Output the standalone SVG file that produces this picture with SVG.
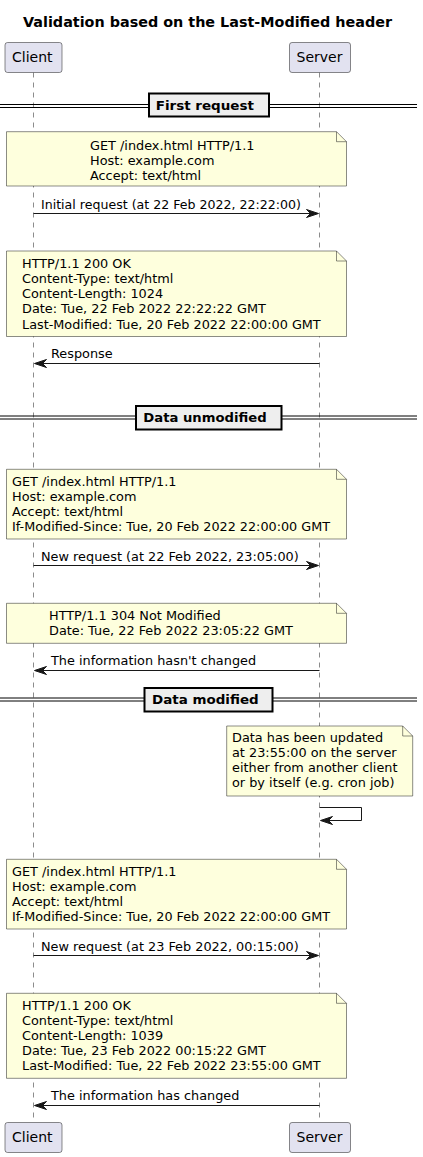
<svg xmlns="http://www.w3.org/2000/svg" width="423" height="1157" viewBox="0 0 423 1157">
<style>
text{font-family:"DejaVu Sans","Liberation Sans",sans-serif;fill:#000}
.t{font-size:14px;font-weight:bold}
.p{font-size:14px}
.m{font-size:12.85px}
.s{font-size:13px;font-weight:bold}
.part{fill:#E2E2F0;stroke:#181818;stroke-width:0.5}
.life{stroke:#181818;stroke-width:0.5;stroke-dasharray:5,5;fill:none}
.note{fill:#FEFFDD;stroke:#181818;stroke-width:0.5}
.fold{fill:none;stroke:#181818;stroke-width:0.5}
.sepl{stroke:#000;stroke-width:1}
.sepb{fill:#EEEEEE;stroke:#000;stroke-width:2}
.msg{stroke:#181818;stroke-width:1;fill:none}
.head{fill:#181818;stroke:#181818;stroke-width:1}
</style>
<rect width="423" height="1157" fill="#fff"/>
<text class="t" x="23" y="27" textLength="369" lengthAdjust="spacingAndGlyphs">Validation based on the Last-Modified header</text>

<g id="lifelines">
<line class="life" x1="33.5" y1="72.5" x2="33.5" y2="1122.5"/>
<line class="life" x1="319.5" y1="72.5" x2="319.5" y2="1122.5"/>
</g>

<g id="client">
<rect class="part" x="5" y="42.5" width="57" height="30" rx="2.5"/>
<text class="p" x="12" y="62.3">Client</text>
<rect class="part" x="5" y="1122.5" width="57" height="30" rx="2.5"/>
<text class="p" x="12" y="1142.3">Client</text>
</g>
<g id="server">
<rect class="part" x="289.5" y="42.5" width="61" height="30" rx="2.5"/>
<text class="p" x="296.5" y="62.3">Server</text>
<rect class="part" x="289.5" y="1122.5" width="61" height="30" rx="2.5"/>
<text class="p" x="296.5" y="1142.3">Server</text>
</g>

<g id="sep1">
<line class="sepl" x1="0" y1="104.5" x2="417" y2="104.5"/>
<line class="sepl" x1="0" y1="107.5" x2="417" y2="107.5"/>
<rect class="sepb" x="149" y="93.5" width="120" height="23"/>
<text class="s" x="155.7" y="110" textLength="98.3" lengthAdjust="spacingAndGlyphs">First request</text>
</g>
<g id="sep2">
<line class="sepl" x1="0" y1="416" x2="417" y2="416"/>
<line class="sepl" x1="0" y1="419" x2="417" y2="419"/>
<rect class="sepb" x="136" y="406" width="145.5" height="23.5"/>
<text class="s" x="143.3" y="422" textLength="123.4" lengthAdjust="spacingAndGlyphs">Data unmodified</text>
</g>
<g id="sep3">
<line class="sepl" x1="0" y1="698" x2="417" y2="698"/>
<line class="sepl" x1="0" y1="701" x2="417" y2="701"/>
<rect class="sepb" x="144.5" y="688" width="128" height="23.5"/>
<text class="s" x="152" y="703.5" textLength="106.7" lengthAdjust="spacingAndGlyphs">Data modified</text>
</g>

<g id="note1">
<path class="note" d="M6.5,131.7 L6.5,186 L346.5,186 L346.5,141.7 L336.5,131.7 Z"/>
<path class="fold" d="M336.5,131.7 L336.5,141.7 L346.5,141.7"/>
<text class="m" x="90" y="149.5">GET /index.html HTTP/1.1</text>
<text class="m" x="90" y="164.5">Host: example.com</text>
<text class="m" x="90" y="179.5">Accept: text/html</text>
</g>
<g id="note2">
<path class="note" d="M6.5,251 L6.5,336.5 L346.5,336.5 L346.5,261 L336.5,251 Z"/>
<path class="fold" d="M336.5,251 L336.5,261 L346.5,261"/>
<text class="m" x="22" y="268">HTTP/1.1 200 OK</text>
<text class="m" x="22" y="283">Content-Type: text/html</text>
<text class="m" x="22" y="298">Content-Length: 1024</text>
<text class="m" x="22" y="313.3">Date: Tue, 22 Feb 2022 22:22:22 GMT</text>
<text class="m" x="22" y="328.5" textLength="298.7" lengthAdjust="spacingAndGlyphs">Last-Modified: Tue, 20 Feb 2022 22:00:00 GMT</text>
</g>
<g id="note3">
<path class="note" d="M6.5,469.3 L6.5,539 L346.5,539 L346.5,479.3 L336.5,469.3 Z"/>
<path class="fold" d="M336.5,469.3 L336.5,479.3 L346.5,479.3"/>
<text class="m" x="12" y="485.7">GET /index.html HTTP/1.1</text>
<text class="m" x="12" y="500.7">Host: example.com</text>
<text class="m" x="12" y="515.7">Accept: text/html</text>
<text class="m" x="12" y="530.7" textLength="318" lengthAdjust="spacingAndGlyphs">If-Modified-Since: Tue, 20 Feb 2022 22:00:00 GMT</text>
</g>
<g id="note4">
<path class="note" d="M6.5,603.3 L6.5,643.3 L346.5,643.3 L346.5,613.3 L336.5,603.3 Z"/>
<path class="fold" d="M336.5,603.3 L336.5,613.3 L346.5,613.3"/>
<text class="m" x="49" y="620">HTTP/1.1 304 Not Modified</text>
<text class="m" x="49" y="635">Date: Tue, 22 Feb 2022 23:05:22 GMT</text>
</g>
<g id="note5">
<path class="note" d="M226.7,726 L226.7,796 L412.7,796 L412.7,736 L402.7,726 Z"/>
<path class="fold" d="M402.7,726 L402.7,736 L412.7,736"/>
<text class="m" x="232" y="742.3">Data has been updated</text>
<text class="m" x="232" y="757.3">at 23:55:00 on the server</text>
<text class="m" x="232" y="772.3">either from another client</text>
<text class="m" x="232" y="787.3">or by itself (e.g. cron job)</text>
</g>
<g id="note6">
<path class="note" d="M6.5,859.3 L6.5,929 L346.5,929 L346.5,869.3 L336.5,859.3 Z"/>
<path class="fold" d="M336.5,859.3 L336.5,869.3 L346.5,869.3"/>
<text class="m" x="12" y="875.7">GET /index.html HTTP/1.1</text>
<text class="m" x="12" y="890.7">Host: example.com</text>
<text class="m" x="12" y="905.7">Accept: text/html</text>
<text class="m" x="12" y="920.7" textLength="318" lengthAdjust="spacingAndGlyphs">If-Modified-Since: Tue, 20 Feb 2022 22:00:00 GMT</text>
</g>
<g id="note7">
<path class="note" d="M6.5,993.3 L6.5,1078.3 L346.5,1078.3 L346.5,1003.3 L336.5,993.3 Z"/>
<path class="fold" d="M336.5,993.3 L336.5,1003.3 L346.5,1003.3"/>
<text class="m" x="22" y="1010">HTTP/1.1 200 OK</text>
<text class="m" x="22" y="1025">Content-Type: text/html</text>
<text class="m" x="22" y="1040">Content-Length: 1039</text>
<text class="m" x="22" y="1055">Date: Tue, 23 Feb 2022 00:15:22 GMT</text>
<text class="m" x="22" y="1070" textLength="298.7" lengthAdjust="spacingAndGlyphs">Last-Modified: Tue, 22 Feb 2022 23:55:00 GMT</text>
</g>

<g id="connectors">
<line class="msg" x1="33.5" y1="213.5" x2="317.5" y2="213.5"/>
<polygon class="head" points="306.5,209.5 318.5,213.5 306.5,217.5 310.5,213.5"/>
<text class="m" x="41" y="208.5" textLength="260" lengthAdjust="spacingAndGlyphs">Initial request (at 22 Feb 2022, 22:22:00)</text>

<line class="msg" x1="35.5" y1="363.5" x2="319.5" y2="363.5"/>
<polygon class="head" points="46.5,359.5 34.5,363.5 46.5,367.5 42.5,363.5"/>
<text class="m" x="51" y="357.5">Response</text>

<line class="msg" x1="33.5" y1="565.5" x2="317.5" y2="565.5"/>
<polygon class="head" points="306.5,561.5 318.5,565.5 306.5,569.5 310.5,565.5"/>
<text class="m" x="41" y="560.5">New request (at 22 Feb 2022, 23:05:00)</text>

<line class="msg" x1="35.5" y1="670.5" x2="319.5" y2="670.5"/>
<polygon class="head" points="46.5,666.5 34.5,670.5 46.5,674.5 42.5,670.5"/>
<text class="m" x="51" y="664.5">The information hasn't changed</text>

<polyline class="msg" points="319.5,807.5 361.5,807.5 361.5,820.5 321.5,820.5"/>
<polygon class="head" points="332.5,816.5 320.5,820.5 332.5,824.5 328.5,820.5"/>

<line class="msg" x1="33.5" y1="955.5" x2="317.5" y2="955.5"/>
<polygon class="head" points="306.5,951.5 318.5,955.5 306.5,959.5 310.5,955.5"/>
<text class="m" x="41" y="950.5">New request (at 23 Feb 2022, 00:15:00)</text>

<line class="msg" x1="35.5" y1="1105.5" x2="319.5" y2="1105.5"/>
<polygon class="head" points="46.5,1101.5 34.5,1105.5 46.5,1109.5 42.5,1105.5"/>
<text class="m" x="51" y="1099.5">The information has changed</text>
</g>
</svg>
